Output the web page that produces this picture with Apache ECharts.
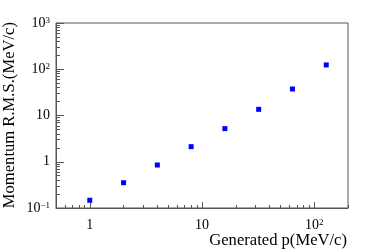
<!DOCTYPE html>
<html>
<head>
<meta charset="utf-8">
<script src="https://cdn.jsdelivr.net/npm/echarts@6/dist/echarts.min.js"></script>
<style>
html,body{margin:0;padding:0;background:#fff;}
#c{width:374px;height:252px;}
</style>
</head>
<body>
<div id="c"></div>
<script>
// Data
var momentum = [1, 2, 4, 8, 16, 32, 64, 128];
var rms = [0.147, 0.352, 0.85, 2.12, 5.2, 13.6, 37.4, 124];

// Axis ticks
var xMajor = [1, 10, 100];
var xMinor = [0.5, 0.6, 0.7, 0.8, 0.9, 2, 3, 4, 5, 6, 7, 8, 9, 20, 30, 40, 50, 60, 70, 80, 90, 200];
var yMajor = [0.1, 1, 10, 100, 1000];
var yMinor = [0.2, 0.3, 0.4, 0.5, 0.6, 0.7, 0.8, 0.9, 2, 3, 4, 5, 6, 7, 8, 9, 20, 30, 40, 50, 60, 70, 80, 90, 200, 300, 400, 500, 600, 700, 800, 900];

var xTitle = 'Generated p(MeV/c)';
var yTitle = 'Momentum R.M.S.(MeV/c)';

var FONT = '"Liberation Serif", "DejaVu Serif", serif';
var AXC = '#555';

function powLabel(v) {
  var e = Math.round(Math.log10(v));
  if (e === 0) return '1';
  if (e === 1) return '10';
  var s = e < 0 ? '\u2212' + (-e) : String(e);
  return '10{sup|' + s + '}';
}

var richSup = {
  sup: { fontSize: 9, fontFamily: FONT, color: '#000', verticalAlign: 'top', lineHeight: 10, padding: [0, 0, 5, 0] }
};

var chart = echarts.init(document.getElementById('c'), null, { renderer: 'canvas' });
chart.setOption({
  animation: false,
  grid: { left: 56, top: 23, right: 26, bottom: 44, show: true, borderColor: AXC, borderWidth: 1, containLabel: false },
  xAxis: [
    {
      type: 'log', logBase: 10, min: 0.5, max: 200, position: 'bottom',
      axisLine: { show: true, lineStyle: { color: AXC, width: 1 } },
      axisTick: { show: true, inside: true, length: 6, customValues: xMajor, lineStyle: { color: AXC } },
      axisLabel: { show: true, customValues: xMajor, margin: 10, color: '#000', fontSize: 14, fontFamily: FONT,
        formatter: powLabel, rich: richSup },
      splitLine: { show: false }, minorTick: { show: false }
    },
    {
      type: 'log', logBase: 10, min: 0.5, max: 200, position: 'bottom',
      axisLine: { show: false },
      axisTick: { show: true, inside: true, length: 3, customValues: xMinor, lineStyle: { color: AXC } },
      axisLabel: { show: false },
      splitLine: { show: false }
    }
  ],
  yAxis: [
    {
      type: 'log', logBase: 10, min: 0.1, max: 1000, position: 'left',
      axisLine: { show: true, lineStyle: { color: AXC, width: 1 } },
      axisTick: { show: true, inside: true, length: 8, customValues: yMajor, lineStyle: { color: AXC } },
      axisLabel: { show: true, customValues: yMajor, margin: 6, color: '#000', fontSize: 14, fontFamily: FONT,
        formatter: powLabel, rich: richSup },
      splitLine: { show: false }
    },
    {
      type: 'log', logBase: 10, min: 0.1, max: 1000, position: 'left',
      axisLine: { show: false },
      axisTick: { show: true, inside: true, length: 4, customValues: yMinor, lineStyle: { color: AXC } },
      axisLabel: { show: false },
      splitLine: { show: false }
    }
  ],
  series: [{
    type: 'scatter',
    xAxisIndex: 0, yAxisIndex: 0,
    symbol: 'rect', symbolSize: 5,
    itemStyle: { color: '#0000ff', opacity: 1 },
    data: momentum.map(function (m, i) { return [m, rms[i]]; })
  }],
  graphic: [
    { type: 'text', x: 347, y: 241, style: { text: xTitle, font: '16.6px ' + FONT, fill: '#000', textAlign: 'right', textVerticalAlign: 'middle' } },
    { type: 'text', x: 10, y: 22, rotation: Math.PI / 2, style: { text: yTitle, font: '16.6px ' + FONT, fill: '#000', textAlign: 'right', textVerticalAlign: 'middle' } }
  ]
});
</script>
</body>
</html>
